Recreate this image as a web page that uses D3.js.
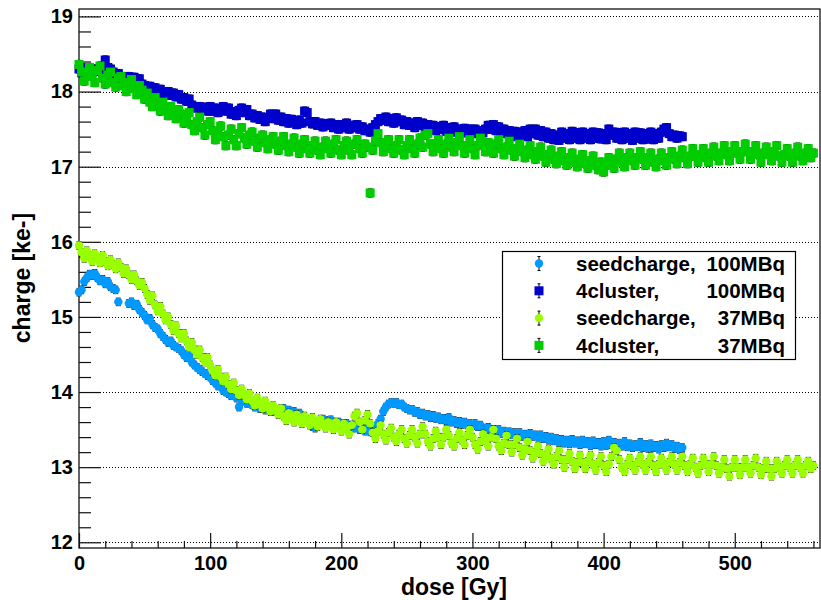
<!DOCTYPE html>
<meta charset="utf-8">
<head>
	<script src="https://d3js.org/d3.v7.min.js"></script>
	<style>
		body {
			margin: 0;
			background: #fff;
		}
		#chart svg {
			display: block;
			font-family: "Liberation Sans", Arial, sans-serif;
			font-weight: bold;
		}
		.axis path {
			display: none;
		}
		.axis line {
			stroke: #111;
			stroke-width: 1.2px;
		}
		.axis text {
			font-size: 20px;
			font-weight: bold;
			fill: #000;
			font-family: "Liberation Sans", Arial, sans-serif;
		}
		.grid line {
			stroke: #000;
			stroke-width: 1px;
			stroke-dasharray: 1,2;
		}
	</style>
</head>

<body>
	<div id="chart"></div>
</body>

<script type="text/javascript">
	// dose points [Gy], one row per 50 Gy
	var doses = [
		0,2,4,6,8,10,12,14,16,18,20,22,24,26,28,30,32,34,36,38,40,42,44,46,48,
		50,52,54,56,58,60,62,64,66,68,70,72,74,76,78,80,82,84,86,88,90,92,94,96,98,
		100,102,104,106,108,110,112,114,116,118,120,122,124,126,128,130,132,134,136,138,140,142,144,146,148,
		150,152,154,156,158,160,162,164,166,168,170,172,174,176,178,180,182,184,186,188,190,192,194,196,198,
		200,202,204,206,208,210,212,214,216,218,220,222,224,226,228,230,232,234,236,238,240,242,244,246,248,
		250,252,254,256,258,260,262,264,266,268,270,272,274,276,278,280,282,284,286,288,290,292,294,296,298,
		300,302,304,306,308,310,312,314,316,318,320,322,324,326,328,330,332,334,336,338,340,342,344,346,348,
		350,352,354,356,358,360,362,364,366,368,370,372,374,376,378,380,382,384,386,388,390,392,394,396,398,
		400,402,404,406,408,410,412,414,416,418,420,422,424,426,428,430,432,434,436,438,440,442,444,446,448,
		450,452,454,456,458,460,462,464,466,468,470,472,474,476,478,480,482,484,486,488,490,492,494,496,498,
		500,502,504,506,508,510,512,514,516,518,520,522,524,526,528,530,532,534,536,538,540,542,544,546,548,
		550,552,554,556,558,560
	];

	// seedcharge, 100MBq  (null = no measurement)
	var seed100 = [
		15.33,15.36,15.47,15.52,15.57,15.55,15.58,15.52,15.48,15.5,15.44,15.47,15.4,15.38,15.36,15.2,null,null,null,15.18,15.2,15.15,15.17,15.1,15.06,
		15.02,14.96,14.98,14.9,14.86,14.84,14.78,14.74,14.7,14.66,14.68,14.62,14.6,14.58,14.55,14.5,14.46,14.48,14.4,14.36,14.33,14.3,14.27,14.25,14.22,
		14.2,14.15,14.12,14.08,14.1,14.02,14.0,13.98,13.95,13.97,13.92,13.8,13.9,13.88,13.85,13.87,13.83,13.8,13.82,13.78,13.8,13.76,13.78,13.74,13.76,
		13.74,13.72,13.76,13.78,13.74,13.76,13.72,13.74,13.7,13.72,13.68,13.66,13.64,13.6,13.54,13.52,13.56,13.62,13.64,13.62,13.6,13.63,13.6,13.58,13.6,
		13.57,13.55,13.58,13.54,13.56,13.52,13.55,13.5,13.52,13.48,13.5,13.47,13.5,13.54,13.58,13.64,13.74,13.8,13.84,13.86,13.85,13.86,13.83,13.84,13.8,
		13.78,13.76,13.77,13.73,13.74,13.7,13.72,13.68,13.7,13.66,13.69,13.65,13.67,13.63,13.65,13.62,13.66,13.6,13.62,13.58,13.61,13.57,13.6,13.56,13.58,
		13.55,13.58,13.54,13.56,13.52,13.5,13.53,13.48,13.5,13.47,13.5,13.45,13.48,13.44,13.47,13.43,13.46,13.42,13.46,13.41,13.44,13.4,13.45,13.41,13.43,
		13.4,13.43,13.38,13.41,13.36,13.4,13.35,13.38,13.33,13.37,13.32,13.36,13.31,13.37,13.32,13.35,13.3,13.36,13.31,13.34,13.29,13.35,13.3,13.33,13.28,
		13.34,13.29,13.36,13.3,13.33,13.27,13.32,13.28,13.34,13.27,13.31,13.26,13.3,13.27,13.33,13.26,13.3,13.25,13.31,13.26,13.29,13.24,13.3,13.26,13.32,
		13.27,13.3,13.25,13.28,13.23,13.26
	];

	// 4cluster, 100MBq
	var cluster100 = [
		18.3,18.25,18.32,18.28,18.3,18.26,18.3,18.27,18.3,18.25,18.42,18.32,18.3,18.26,18.22,18.24,18.18,18.2,18.16,18.2,18.15,18.19,18.12,18.17,18.1,
		18.08,18.04,18.07,18.02,18.05,18.0,18.03,17.97,17.98,18.0,17.95,17.98,17.93,17.96,17.9,17.92,17.87,17.9,17.82,17.8,17.78,17.8,17.75,17.79,17.74,
		17.8,17.74,17.78,17.72,17.76,17.8,17.74,17.78,17.7,17.73,17.68,17.75,17.78,17.72,17.76,17.68,17.7,17.65,17.68,17.63,17.66,17.6,17.65,17.7,17.64,
		17.7,17.62,17.66,17.6,17.64,17.58,17.63,17.6,17.56,17.62,17.58,17.74,17.72,17.6,17.57,17.6,17.55,17.58,17.53,17.57,17.55,17.58,17.52,17.56,17.5,
		17.56,17.52,17.58,17.5,17.55,17.52,17.56,17.5,17.53,17.48,17.5,17.46,17.52,17.56,17.6,17.64,17.62,17.66,17.6,17.64,17.58,17.65,17.6,17.62,17.56,
		17.6,17.55,17.58,17.52,17.6,17.55,17.58,17.5,17.56,17.52,17.55,17.48,17.53,17.5,17.55,17.47,17.52,17.48,17.53,17.46,17.5,17.45,17.51,17.47,17.5,
		17.46,17.5,17.44,17.48,17.45,17.5,17.55,17.5,17.56,17.48,17.53,17.46,17.5,17.44,17.48,17.42,17.47,17.4,17.46,17.42,17.48,17.4,17.5,17.44,17.5,
		17.42,17.48,17.4,17.46,17.38,17.44,17.36,17.42,17.35,17.46,17.38,17.44,17.36,17.47,17.38,17.45,17.36,17.46,17.38,17.44,17.36,17.46,17.38,17.45,17.37,
		17.44,17.36,17.5,17.42,17.46,17.38,17.45,17.36,17.46,17.38,17.44,17.35,17.46,17.38,17.45,17.36,17.44,17.37,17.46,17.36,17.44,17.38,17.46,17.5,17.52,
		17.44,17.4,17.42,17.38,17.41,17.4
	];

	// seedcharge, 37MBq
	var seed37 = [
		15.95,15.86,15.78,15.88,15.82,15.74,15.84,15.78,15.72,15.82,15.74,15.68,15.76,15.7,15.64,15.72,15.66,15.58,15.64,15.56,15.5,15.56,15.48,15.42,15.46,
		15.38,15.3,15.22,15.28,15.16,15.08,15.14,15.04,14.96,15.0,14.9,14.82,14.88,14.78,14.72,14.78,14.68,14.6,14.66,14.56,14.5,14.56,14.46,14.4,14.46,
		14.36,14.28,14.22,14.3,14.2,14.14,14.2,14.1,14.04,14.12,14.02,13.96,14.04,13.96,13.9,13.98,13.88,13.82,13.92,13.84,13.78,13.88,13.8,13.74,13.82,
		13.76,13.7,13.78,13.68,13.62,13.72,13.66,13.6,13.7,13.64,13.58,13.68,13.62,13.56,13.66,13.6,13.54,13.64,13.58,13.52,13.6,13.56,13.5,13.6,13.54,
		13.48,13.58,13.52,13.44,13.56,13.68,13.72,13.6,13.5,13.62,13.7,13.58,13.46,13.38,13.48,13.56,13.44,13.36,13.46,13.52,13.4,13.34,13.44,13.5,13.38,
		13.32,13.42,13.5,13.4,13.32,13.44,13.54,13.44,13.34,13.28,13.38,13.48,13.4,13.3,13.4,13.5,13.42,13.32,13.28,13.38,13.46,13.36,13.3,13.42,13.5,
		13.4,13.3,13.24,13.34,13.44,13.36,13.28,13.4,13.5,13.38,13.28,13.22,13.32,13.42,13.3,13.2,13.3,13.38,13.26,13.16,13.24,13.34,13.22,13.12,13.2,
		13.28,13.18,13.08,13.16,13.24,13.12,13.04,13.14,13.22,13.1,13.0,13.1,13.18,13.08,12.98,13.06,13.16,13.06,12.98,13.08,13.16,13.04,12.96,13.06,13.14,
		13.02,12.94,13.04,13.14,13.26,13.22,13.1,13.0,12.94,13.04,13.12,13.02,12.96,13.06,13.14,13.04,12.96,13.06,13.14,13.02,12.94,13.04,13.12,13.04,12.96,
		13.06,13.14,13.04,12.96,13.06,13.14,13.02,12.94,13.04,13.12,13.0,12.92,13.02,13.12,13.04,12.94,13.04,13.14,13.02,12.92,13.0,13.1,12.98,12.88,13.0,
		13.1,13.0,12.9,13.0,13.1,13.0,12.92,13.02,13.12,13.0,12.9,12.98,13.08,12.98,12.88,12.98,13.08,13.0,12.92,13.02,13.1,13.0,12.92,13.02,13.1,
		13.0,12.92,13.02,13.08,12.98,13.02
	];

	// 4cluster, 37MBq
	var cluster37 = [
		18.36,18.26,18.14,18.22,18.32,18.2,18.12,18.28,18.34,18.18,18.1,18.22,18.26,18.12,18.06,18.18,18.2,18.08,18.0,18.12,18.16,18.04,17.96,18.08,18.02,
		17.9,17.98,17.86,17.8,17.92,17.84,17.74,17.86,17.78,17.68,17.8,17.72,17.64,17.76,17.7,17.58,17.66,17.72,17.56,17.48,17.6,17.66,17.52,17.42,17.56,
		17.6,17.48,17.36,17.44,17.54,17.4,17.28,17.42,17.5,17.36,17.28,17.44,17.52,17.38,17.3,17.42,17.46,17.34,17.26,17.38,17.42,17.32,17.24,17.36,17.4,
		17.3,17.22,17.34,17.4,17.28,17.2,17.3,17.38,17.26,17.18,17.3,17.36,17.24,17.18,17.28,17.34,17.22,17.16,17.26,17.34,17.24,17.18,17.3,17.36,17.22,
		17.16,17.28,17.34,17.22,17.16,17.3,17.36,17.24,17.18,17.3,17.26,16.65,17.22,17.34,17.44,17.32,17.2,17.3,17.36,17.24,17.18,17.28,17.36,17.22,17.16,
		17.28,17.36,17.24,17.18,17.3,17.38,17.26,17.42,17.44,17.3,17.2,17.3,17.36,17.24,17.18,17.3,17.38,17.26,17.2,17.32,17.4,17.28,17.18,17.28,17.36,
		17.24,17.16,17.28,17.38,17.3,17.2,17.32,17.26,17.18,17.3,17.36,17.24,17.16,17.26,17.34,17.22,17.14,17.24,17.3,17.2,17.12,17.22,17.28,17.16,17.1,
		17.2,17.26,17.14,17.06,17.16,17.22,17.1,17.04,17.14,17.2,17.08,17.02,17.12,17.18,17.06,17.0,17.1,17.16,17.04,16.98,17.08,17.14,17.02,16.96,17.06,
		16.93,17.02,17.12,17.04,16.98,17.1,17.18,17.06,17.0,17.12,17.18,17.08,17.02,17.12,17.2,17.1,17.02,17.12,17.18,17.06,17.0,17.1,17.18,17.08,17.02,
		17.12,17.2,17.1,17.04,17.14,17.22,17.12,17.04,17.14,17.24,17.14,17.06,17.16,17.24,17.12,17.06,17.18,17.26,17.14,17.08,17.18,17.28,17.16,17.08,17.2,
		17.28,17.18,17.1,17.2,17.3,17.2,17.1,17.2,17.28,17.16,17.06,17.18,17.26,17.16,17.08,17.2,17.28,17.14,17.06,17.16,17.24,17.14,17.06,17.18,17.26,
		17.14,17.08,17.18,17.24,17.12,17.18
	];

	var seriesNames = ["seedcharge,", "4cluster,", "seedcharge,", "4cluster,"];
	var seriesActivity = ["100MBq", "100MBq", "37MBq", "37MBq"];
	var seriesColors = ["#0099ff", "#0000cc", "#99ff00", "#00cc00"];
	var seriesShapes = ["circle", "square", "circle", "square"];
	var seriesErrors = [0.05, 0.055, 0.05, 0.055];
	var seriesValues = [seed100, cluster100, seed37, cluster37];

	var yMajor = [12, 13, 14, 15, 16, 17, 18, 19];
	var xMajor = [0, 100, 200, 300, 400, 500];

	var margin = {top: 9, right: 1, bottom: 52, left: 79},
		width = 821 - margin.left - margin.right,
		height = 600 - margin.top - margin.bottom;

	var xScale = d3.scaleLinear()
		.domain([0, 565])
		.range([0, width]);

	var yScale = d3.scaleLinear()
		.domain([11.924, 19.099])
		.range([height, 0]);

	var svg = d3.select("#chart").append("svg")
		.attr("width", width + margin.left + margin.right)
		.attr("height", height + margin.top + margin.bottom)
		.append("g")
		.attr("transform", "translate(" + margin.left + "," + margin.top + ")");

	// dotted horizontal grid
	svg.append("g")
		.attr("class", "grid")
		.selectAll("line")
		.data(yMajor)
		.enter().append("line")
		.attr("x1", 0)
		.attr("x2", width)
		.attr("y1", function(d) { return Math.round(yScale(d)) + 0.5; })
		.attr("y2", function(d) { return Math.round(yScale(d)) + 0.5; });

	// minor ticks
	var yMinor = d3.range(12, 19.1, 0.2).filter(function(d) { return Math.abs(d - Math.round(d)) > 0.01; });
	var xMinor = d3.range(0, 565, 20).filter(function(d) { return d % 100 != 0; });

	svg.append("g")
		.attr("class", "y axis minor")
		.call(d3.axisLeft(yScale).tickValues(yMinor).tickSizeInner(-12).tickSizeOuter(0).tickFormat(""));

	svg.append("g")
		.attr("class", "y axis")
		.call(d3.axisLeft(yScale).tickValues(yMajor).tickSizeInner(-22).tickSizeOuter(0).tickPadding(6).tickFormat(d3.format("d")));

	svg.append("g")
		.attr("class", "x axis minor")
		.attr("transform", "translate(0," + height + ")")
		.call(d3.axisBottom(xScale).tickValues(xMinor).tickSizeInner(-7).tickSizeOuter(0).tickFormat(""));

	svg.append("g")
		.attr("class", "x axis")
		.attr("transform", "translate(0," + height + ")")
		.call(d3.axisBottom(xScale).tickValues(xMajor).tickSizeInner(-15).tickSizeOuter(0).tickPadding(8).tickFormat(d3.format("d")));

	// frame
	svg.append("rect")
		.attr("x", 0)
		.attr("y", 0)
		.attr("width", width)
		.attr("height", height)
		.style("fill", "none")
		.style("stroke", "#111")
		.style("stroke-width", 1.3);

	// axis titles
	svg.append("text")
		.attr("transform", "translate(" + (30 - margin.left) + "," + 269 + ")rotate(-90)")
		.style("text-anchor", "middle")
		.style("font-size", "23px")
		.text("charge [ke-]");

	svg.append("text")
		.attr("x", 375)
		.attr("y", 586)
		.style("text-anchor", "middle")
		.style("font-size", "23px")
		.text("dose [Gy]");

	// data points
	seriesValues.forEach(function(values, s) {
		var pts = values.map(function(v, i) { return {dose: doses[i], charge: v, err: seriesErrors[s]}; })
			.filter(function(d) { return d.charge != null; });
		var g = svg.append("g").attr("class", "series" + s);

		var eb = g.selectAll(".err")
			.data(pts)
			.enter().append("g")
			.attr("class", "err")
			.style("stroke", "#000")
			.style("stroke-width", 1);
		eb.append("line")
			.attr("x1", function(d) { return xScale(d.dose); })
			.attr("x2", function(d) { return xScale(d.dose); })
			.attr("y1", function(d) { return yScale(d.charge - d.err); })
			.attr("y2", function(d) { return yScale(d.charge + d.err); });
		eb.append("line")
			.attr("x1", function(d) { return xScale(d.dose) - 2.5; })
			.attr("x2", function(d) { return xScale(d.dose) + 2.5; })
			.attr("y1", function(d) { return yScale(d.charge - d.err); })
			.attr("y2", function(d) { return yScale(d.charge - d.err); });
		eb.append("line")
			.attr("x1", function(d) { return xScale(d.dose) - 2.5; })
			.attr("x2", function(d) { return xScale(d.dose) + 2.5; })
			.attr("y1", function(d) { return yScale(d.charge + d.err); })
			.attr("y2", function(d) { return yScale(d.charge + d.err); });

		if (seriesShapes[s] == "circle") {
			g.selectAll(".pt")
				.data(pts)
				.enter().append("circle")
				.attr("class", "pt")
				.attr("cx", function(d) { return xScale(d.dose); })
				.attr("cy", function(d) { return yScale(d.charge); })
				.attr("r", 4.2)
				.style("fill", seriesColors[s]);
		} else {
			g.selectAll(".pt")
				.data(pts)
				.enter().append("rect")
				.attr("class", "pt")
				.attr("x", function(d) { return xScale(d.dose) - 4.5; })
				.attr("y", function(d) { return yScale(d.charge) - 4.5; })
				.attr("width", 9)
				.attr("height", 9)
				.style("fill", seriesColors[s]);
		}
	});

	// legend
	var legend = svg.append("g")
		.attr("class", "legend_area")
		.attr("transform", "translate(" + (502 - margin.left) + "," + (251 - margin.top) + ")");

	legend.append("rect")
		.attr("x", 0.5)
		.attr("y", 0.5)
		.attr("width", 293)
		.attr("height", 108)
		.style("fill", "#fff")
		.style("stroke", "#000")
		.style("stroke-width", 1.2);

	var rows = legend.selectAll(".row")
		.data(seriesNames)
		.enter().append("g")
		.attr("class", "row")
		.attr("transform", function(d, i) { return "translate(0," + (12.5 + i * 27.3) + ")"; });

	rows.append("line")
		.attr("x1", 37).attr("x2", 37)
		.attr("y1", -7).attr("y2", 7)
		.style("stroke", "#000");
	rows.append("line")
		.attr("x1", 35.5).attr("x2", 38.5)
		.attr("y1", -7).attr("y2", -7)
		.style("stroke", "#000");
	rows.append("line")
		.attr("x1", 35.5).attr("x2", 38.5)
		.attr("y1", 7).attr("y2", 7)
		.style("stroke", "#000");

	rows.each(function(d, i) {
		var row = d3.select(this);
		if (seriesShapes[i] == "circle") {
			row.append("circle")
				.attr("cx", 37)
				.attr("cy", 0)
				.attr("r", 4.2)
				.style("fill", seriesColors[i]);
		} else {
			row.append("rect")
				.attr("x", 32.5)
				.attr("y", -4.5)
				.attr("width", 9)
				.attr("height", 9)
				.style("fill", seriesColors[i]);
		}
	});

	rows.append("text")
		.attr("x", 74)
		.attr("dy", ".35em")
		.style("font-size", "20.5px")
		.text(function(d) { return d; });

	rows.append("text")
		.attr("x", 283)
		.attr("dy", ".35em")
		.style("text-anchor", "end")
		.style("font-size", "20.5px")
		.text(function(d, i) { return seriesActivity[i]; });
</script>
